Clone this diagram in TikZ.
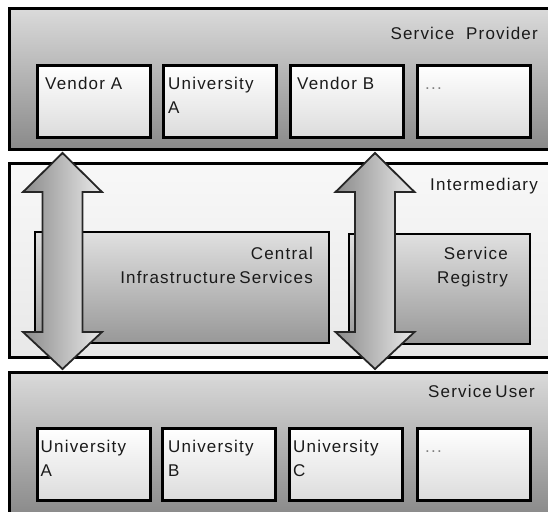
\documentclass[tikz,border=0pt]{standalone}
\usepackage{fontspec}
\setmainfont[LetterSpace=7]{Liberation Sans}
\usetikzlibrary{calc,shadings}
\definecolor{pTop}{HTML}{DADADA}
\definecolor{pBot}{HTML}{8A8A8A}
\definecolor{mTop}{HTML}{F8F8F8}
\definecolor{mBot}{HTML}{E8E8E8}
\definecolor{bTop}{HTML}{FFFFFF}
\definecolor{bBot}{HTML}{DCDCDC}
\definecolor{cTop}{HTML}{E0E0E0}
\definecolor{cBot}{HTML}{989898}
\definecolor{aLeft}{HTML}{8A8A8A}
\definecolor{aRight}{HTML}{EAEAEA}
\definecolor{txt}{HTML}{1A1A1A}
\begin{document}
\begin{tikzpicture}[x=1pt,y=-1pt,
  panel/.style={draw=black,line width=3pt,top color=pTop,bottom color=pBot,
    minimum width=560pt,anchor=north west,inner sep=0pt,outer sep=0pt},
  midpanel/.style={draw=black,line width=3pt,top color=mTop,bottom color=mBot,
    minimum width=560pt,anchor=north west,inner sep=0pt,outer sep=0pt},
  ibox/.style={draw=black,line width=3pt,top color=bTop,bottom color=bBot,
    minimum width=113pt,minimum height=72pt,anchor=north west,inner sep=0pt,outer sep=0pt},
  cbox/.style={draw=black,line width=2pt,top color=cTop,bottom color=cBot,
    anchor=north west,inner sep=0pt,outer sep=0pt},
  lbl/.style={text=txt,font=\fontsize{17}{24}\selectfont,inner sep=0pt},
  arrowst/.style={draw=black!85,line width=1.8pt,line join=miter,left color=aLeft,right color=aRight},
  pics/dblarrow/.style={code={
    \path[arrowst] (0,0) -- (39.5,39) -- (20,39) -- (20,179) -- (39.5,179) -- (0,216)
      -- (-39.5,179) -- (-20,179) -- (-20,39) -- (-39.5,39) -- cycle;}}
]
\useasboundingbox (0,0) rectangle (548,511);
\clip (0,0) rectangle (548,511);
\fill[white] (0,0) rectangle (548,511);

% Service Provider panel
\node[panel,minimum height=140pt] (prov) at (9,9) {};
\node[lbl,anchor=base east] (provt) at (538,40) {Service\ \ Provider};
\node[ibox] (pva) at (37,65) {};
\node[ibox] (pua) at (163,65) {};
\node[ibox] (pvb) at (290,65) {};
\node[ibox] (pdots) at (417,65) {};
\node[lbl,anchor=base west] at ($(pva.north west)+(8,24)$) {Vendor A};
\node[lbl,anchor=base west,align=left] at ($(pua.north west)+(5,48)$) {University\\A};
\node[lbl,anchor=base west] at ($(pvb.north west)+(7,24)$) {Vendor B};
\node[lbl,anchor=base west,text=gray] at ($(pdots.north west)+(8,24)$) {...};

% Intermediary panel
\node[midpanel,minimum height=194pt] (inter) at (9,163) {};
\node[lbl,anchor=base east] (intert) at (538,190) {Intermediary};
\node[cbox,minimum width=294pt,minimum height=111pt] (cis) at (35,232) {};
\node[cbox,minimum width=181pt,minimum height=110pt] (reg) at (349,234) {};
\node[lbl,anchor=base east,align=right] at (313,283) {Central\\Infrastructure\hspace{-2.5pt} Services};
\node[lbl,anchor=base east,align=right] at (508,283) {Service\\Registry};

% Service User panel
\node[panel,minimum height=143pt] (user) at (9,372) {};
\node[lbl,anchor=base east] (usert) at (535,397) {Service\hspace{-2.5pt} User};
\node[ibox] (ua) at (37.5,428) {};
\node[ibox] (ub) at (162,428) {};
\node[ibox] (uc) at (289,428) {};
\node[ibox] (udots) at (417,428) {};
\node[lbl,anchor=base west,align=left] at ($(ua.north west)+(3,48)$) {University\\A};
\node[lbl,anchor=base west,align=left] at ($(ub.north west)+(6,48)$) {University\\B};
\node[lbl,anchor=base west,align=left] at ($(uc.north west)+(4,48)$) {University\\C};
\node[lbl,anchor=base west,text=gray] at ($(udots.north west)+(8,24)$) {...};

% double arrows
\coordinate (arrL) at (62.5,153);
\coordinate (arrR) at (375,153);
\pic at (arrL) {dblarrow};
\pic at (arrR) {dblarrow};
\end{tikzpicture}
\end{document}
